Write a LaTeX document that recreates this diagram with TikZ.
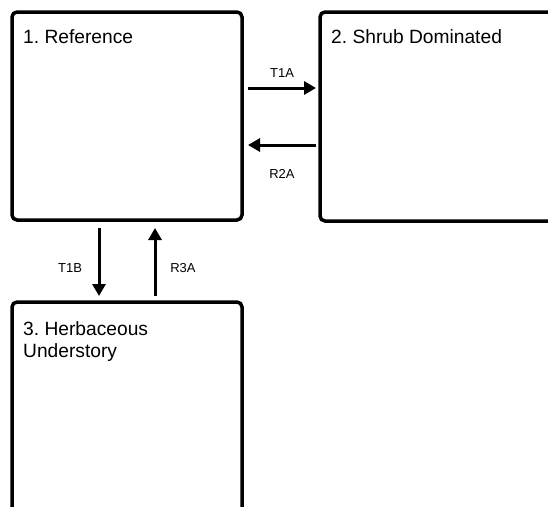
\documentclass[tikz,border=0pt]{standalone}
\usepackage{fontspec}
\setmainfont{Liberation Sans}
\usetikzlibrary{arrows.meta}
\frenchspacing
\begin{document}
\begin{tikzpicture}[x=1pt,y=-1pt,
  box/.style={draw=black,line width=3.5pt,rounded corners=5pt,fill=white,anchor=north west,inner sep=0pt,outer sep=0pt},
  title/.style={anchor=base west,inner sep=0pt,font=\fontsize{19.2}{22}\selectfont\frenchspacing,align=left},
  lbl/.style={anchor=base,inner sep=0pt,font=\fontsize{13}{15}\selectfont},
  arr/.style={line width=3pt,-{Triangle[length=12pt,width=13pt]}}]
\useasboundingbox (0,0) rectangle (548,506);
\clip (0,0) rectangle (548,506);
\node[box,minimum width=230pt,minimum height=208pt] (b1) at (12,12) {};
\node[box,minimum width=245pt,minimum height=209pt] (b2) at (320,12) {};
\node[box,minimum width=230pt,minimum height=240pt] (b3) at (12,302) {};
\node[title] (t1) at (23,43) {1. Reference};
\node[title] (t2) at (331,43) {2. Shrub Dominated};
\node[title] (t3) at (23,357) {3. Herbaceous\\Understory};
\coordinate (ya) at (0,88);
\coordinate (yb) at (0,145);
\coordinate (xa) at (99,0);
\coordinate (xb) at (155,0);
\draw[arr,shorten <=6pt,shorten >=4pt] (b1.east |- ya) -- (b2.west |- ya);
\draw[arr,shorten <=4pt,shorten >=6pt] (b2.west |- yb) -- (b1.east |- yb);
\draw[arr,shorten <=8pt,shorten >=6pt] (b1.south -| xa) -- (b3.north -| xa);
\draw[arr,shorten <=6pt,shorten >=8pt] (b3.north -| xb) -- (b1.south -| xb);
\node[lbl] (l1) at (282,77) {T1A};
\node[lbl] (l2) at (282,178) {R2A};
\node[lbl] (l3) at (70,272) {T1B};
\node[lbl] (l4) at (183,272) {R3A};
\end{tikzpicture}
\end{document}
